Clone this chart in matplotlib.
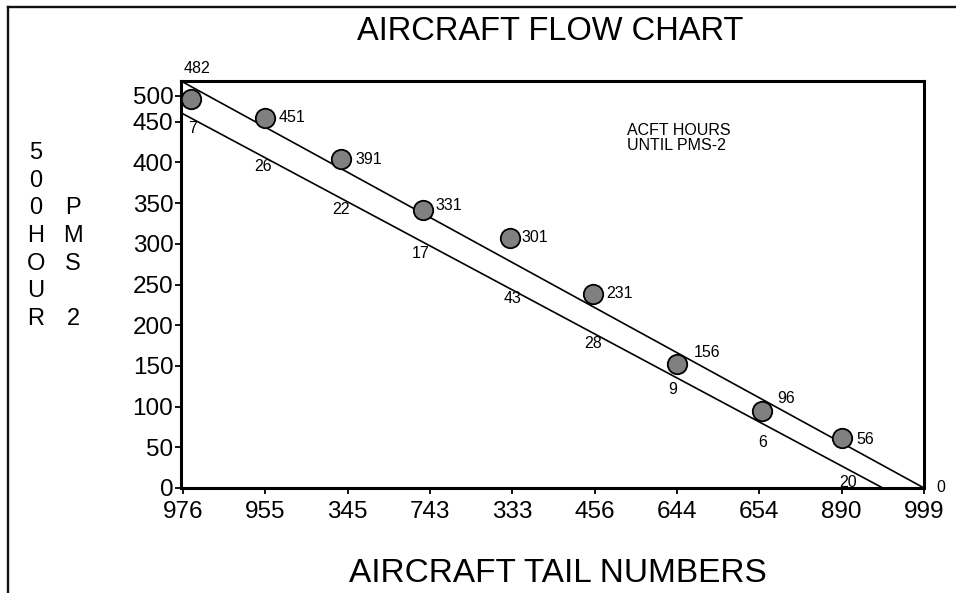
import numpy as np
import matplotlib.pyplot as plt
from matplotlib.lines import Line2D

plt.rcParams['font.family'] = ['Liberation Sans', 'DejaVu Sans']

# tail numbers along the x axis
tails = ['976', '955', '345', '743', '333', '456', '644', '654', '890', '999']
# aircraft positions (index, hours)
pt_x = [0.1, 1.0, 1.92, 2.92, 3.97, 4.98, 6.0, 7.03, 8.0]
pt_y = [478, 455, 404, 342, 307, 238, 152, 94, 61]
# hours labels (upper) and the small numbers under the lower line
hours = ['482', '451', '391', '331', '301', '231', '156', '96', '56', '0']
hours_x = [0.17, 1.32, 2.25, 3.23, 4.27, 5.30, 6.37, 7.33, 8.29, 9.2]
hours_y = [515, 455, 404, 347, 308, 239, 167, 110, 60, 1]
lower = ['7', '26', '22', '17', '43', '28', '9', '6', '20']
lower_x = [0.11, 0.97, 1.92, 2.89, 4.0, 4.98, 5.95, 7.04, 8.08]
lower_y = [442, 395, 342, 288, 233, 177, 121, 56, 7]
# the two guide lines
upper_line_x = [-0.025, 9.0]
upper_line_y = [500, 0]
lower_line_x = [-0.025, 8.5]
lower_line_y = [461, 0]
yticks = [0, 50, 100, 150, 200, 250, 300, 350, 400, 450, 482]
ylabels = ['0', '50', '100', '150', '200', '250', '300', '350', '400', '450', '500']

fig = plt.figure(figsize=(9.56, 5.93), dpi=100)
ax = fig.add_axes([181/956, 1-488/593, (924-181)/956, (488-81)/593])

ax.plot(upper_line_x, upper_line_y, color='black', lw=1.2, clip_on=False)
ax.plot(lower_line_x, lower_line_y, color='black', lw=1.2, clip_on=False)
ax.plot(pt_x, pt_y, 'o', ms=14, mfc='#808080', mec='black', mew=1.3, clip_on=False, zorder=5)

for t, x, y in zip(hours, hours_x, hours_y):
    ax.text(x, y, t, fontsize=11.5, ha='center', va='center', clip_on=False)
for t, x, y in zip(lower, lower_x, lower_y):
    ax.text(x, y, t, fontsize=11.5, ha='center', va='center', clip_on=False)

ax.text(5.39, 449, 'ACFT HOURS\nUNTIL PMS-2', fontsize=11.5, ha='left', va='top', linespacing=1.0)

ax.set_xlim(-0.025, 9.0)
ax.set_ylim(0, 500)
ax.set_xticks(range(len(tails)))
ax.set_xticklabels(tails)
ax.set_yticks(yticks)
ax.set_yticklabels(ylabels)
ax.tick_params(direction='out', length=4, width=1.3, labelsize=17.5, pad=1.5)
ax.tick_params(axis='x', pad=5)
for s in ax.spines.values():
    s.set_linewidth(2.2)

fig.text(550/956, 1-31/593, 'AIRCRAFT FLOW CHART', fontsize=23.5, ha='center', va='center')
fig.text(558/956, 1-573/593, 'AIRCRAFT TAIL NUMBERS', fontsize=24, ha='center', va='center')

# stacked y label letters
col1 = ['5', '0', '0', 'H', 'O', 'U', 'R']
col2 = ['', '', 'P', 'M', 'S', '', '2']
for i, (a, b) in enumerate(zip(col1, col2)):
    yy = 1 - (153 + i*27.7)/593
    fig.text(36/956, yy, a, fontsize=17, ha='center', va='center')
    if b:
        fig.text(73/956, yy, b, fontsize=17, ha='center', va='center')

# outer frame (top and left only visible)
fig.add_artist(Line2D([8/956, 1], [1-7/593, 1-7/593], color='#111111', lw=1.7, transform=fig.transFigure))
fig.add_artist(Line2D([8/956, 8/956], [0, 1-7/593], color='#111111', lw=1.7, transform=fig.transFigure))

fig.savefig('out.png', dpi=100)
